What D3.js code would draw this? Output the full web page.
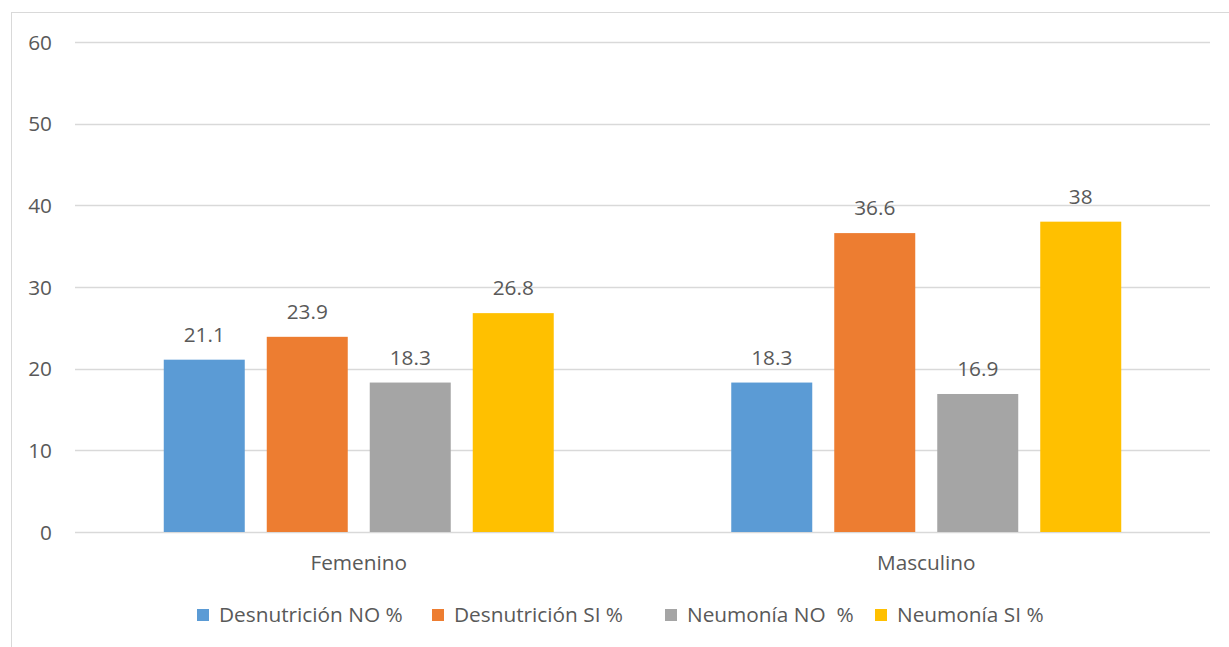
<!DOCTYPE html>
<html>
<head>
<meta charset="utf-8">
<script src="https://cdn.jsdelivr.net/npm/d3@7"></script>
<style>
  body { margin: 0; background: #fff; }
  svg text { font-family: "Open Sans", sans-serif; fill: #595959; }
</style>
</head>
<body>
<svg id="chart" width="1229" height="647"></svg>
<script>
var categories = ["Femenino", "Masculino"];
var seriesNames = ["Desnutrición NO %", "Desnutrición SI %", "Neumonía NO  %", "Neumonía SI %"];
var desnutricionNo = [21.1, 18.3];
var desnutricionSi = [23.9, 36.6];
var neumoniaNo = [18.3, 16.9];
var neumoniaSi = [26.8, 38];
var yTicks = [0, 10, 20, 30, 40, 50, 60];

var colors = ["#5b9bd5", "#ed7d31", "#a5a5a5", "#ffc000"];
var allSeries = [desnutricionNo, desnutricionSi, neumoniaNo, neumoniaSi];
var fontSize = "20.8px";

var svg = d3.select("#chart");

// chart frame (runs past the picture on right and bottom)
svg.append("rect")
    .attr("x", 11.5).attr("y", 12.5)
    .attr("width", 1240).attr("height", 660)
    .attr("fill", "none").attr("stroke", "#d9d9d9");

var plotLeft = 75, plotRight = 1210, plotTop = 42, plotBottom = 532;

var y = d3.scaleLinear().domain([0, 60]).range([plotBottom, plotTop]);

var x0 = d3.scaleBand()
    .domain(categories)
    .range([plotLeft, plotRight])
    .paddingInner(0.3128)
    .paddingOuter(0.1564);

var x1 = d3.scaleBand()
    .domain(d3.range(seriesNames.length))
    .range([0, x0.bandwidth()])
    .paddingInner(0.2136);

// gridlines
svg.append("g").selectAll("line")
    .data(yTicks)
    .join("line")
    .attr("x1", plotLeft).attr("x2", plotRight)
    .attr("y1", function(d){ return Math.round(y(d)) + 0.5; })
    .attr("y2", function(d){ return Math.round(y(d)) + 0.5; })
    .attr("stroke", "#d9d9d9")
    .attr("stroke-width", 1.3);

// y axis labels
var yAxis = d3.axisLeft(y).tickValues(yTicks).tickSize(0).tickPadding(0);
svg.append("g")
    .attr("transform", "translate(52,0)")
    .call(yAxis)
    .call(function(g){ g.select(".domain").remove(); })
    .selectAll("text")
    .style("font-size", fontSize)
    .attr("fill", "#595959")
    .attr("dy", "0.35em");

// x axis labels
var xAxis = d3.axisBottom(x0).tickSize(0).tickPadding(0);
svg.append("g")
    .attr("transform", "translate(0,555)")
    .call(xAxis)
    .call(function(g){ g.select(".domain").remove(); })
    .selectAll("text")
    .style("font-size", fontSize)
    .attr("fill", "#595959")
    .attr("dy", "0.71em");

// bars
var groups = svg.append("g").selectAll("g")
    .data(categories)
    .join("g")
    .attr("transform", function(d){ return "translate(" + x0(d) + ",0)"; });

var cellData = function(d, ci){
    return allSeries.map(function(s, si){ return {si: si, v: s[ci]}; });
};

groups.selectAll("rect")
    .data(cellData)
    .join("rect")
    .attr("x", function(d){ return x1(d.si); })
    .attr("width", x1.bandwidth())
    .attr("y", function(d){ return y(d.v); })
    .attr("height", function(d){ return y(0) - y(d.v); })
    .attr("fill", function(d){ return colors[d.si]; });

groups.selectAll("text")
    .data(cellData)
    .join("text")
    .attr("x", function(d){ return x1(d.si) + x1.bandwidth() / 2; })
    .attr("y", function(d){ return y(d.v) - 18; })
    .attr("text-anchor", "middle")
    .style("font-size", fontSize)
    .text(function(d){ return d.v; });

// legend
var legendX = [197, 432, 665, 875];
var legend = svg.append("g").selectAll("g")
    .data(seriesNames)
    .join("g")
    .attr("transform", function(d, i){ return "translate(" + legendX[i] + ",609)"; });

legend.append("rect")
    .attr("width", 12).attr("height", 12)
    .attr("fill", function(d, i){ return colors[i]; });

legend.append("text")
    .attr("x", 22).attr("y", 6)
    .attr("dy", "0.35em")
    .style("font-size", fontSize)
    .style("white-space", "pre")
    .text(function(d){ return d; });
</script>
</body>
</html>
